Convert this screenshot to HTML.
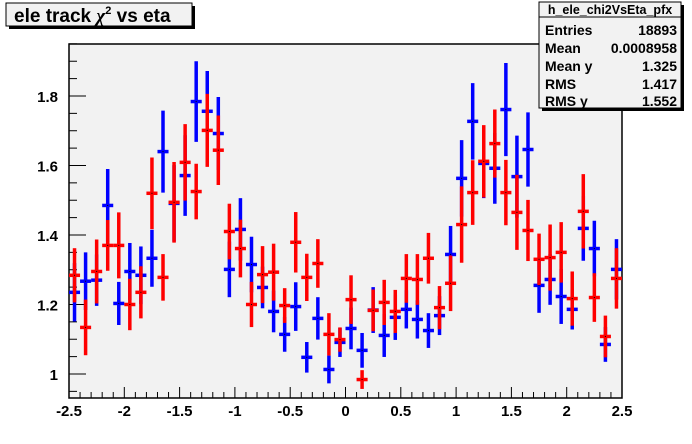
<!DOCTYPE html>
<html><head><meta charset="utf-8"><style>
body{margin:0;background:#fff}
svg{display:block;font-family:"Liberation Sans",Arial,sans-serif;font-weight:bold}
</style></head><body>
<svg id="c" width="692" height="444" viewBox="0 0 692 444">
<rect x="0" y="0" width="692" height="444" fill="#fff"/>
<rect x="69" y="44" width="553" height="354" fill="#f2f2f2" stroke="#000" stroke-width="1.5"/>
<g id="axes"></g>
<g id="marks"></g>
<g>
<rect x="9" y="6" width="186" height="23" fill="#000"/>
<rect x="6" y="3" width="186" height="23" fill="#f2f2f2" stroke="#000"/>
<text x="14" y="22" font-size="19">ele track <tspan font-family="Liberation Serif" font-style="italic">χ</tspan><tspan font-size="11" dy="-8">2</tspan><tspan dy="8"> vs eta</tspan></text>
</g>
<g font-size="14">
<rect x="542" y="5" width="142" height="106" fill="#000"/>
<rect x="539" y="2" width="142" height="106" fill="#f2f2f2" stroke="#000"/>
<line x1="539" y1="17" x2="681" y2="17" stroke="#000"/>
<text x="610" y="14" font-size="12.5" text-anchor="middle">h_ele_chi2VsEta_pfx</text>
<text x="545" y="35">Entries</text><text x="677" y="35" text-anchor="end">18893</text>
<text x="545" y="53">Mean</text><text x="677" y="53" text-anchor="end">0.0008958</text>
<text x="545" y="71">Mean y</text><text x="677" y="71" text-anchor="end">1.325</text>
<text x="545" y="89">RMS</text><text x="677" y="89" text-anchor="end">1.417</text>
<text x="545" y="106">RMS y</text><text x="677" y="106" text-anchor="end">1.552</text>
</g>
</svg>
<script>
const xTicks=[-2.5,-2,-1.5,-1,-0.5,0,0.5,1,1.5,2,2.5];
const xTickLabels=["-2.5","-2","-1.5","-1","-0.5","0","0.5","1","1.5","2","2.5"];
const yTicks=[1,1.2,1.4,1.6,1.8];
const yTickLabels=["1","1.2","1.4","1.6","1.8"];
const binLow=-2.5, binWidth=0.1;
const blueVals=[1.235,1.267,1.270,1.485,1.203,1.295,1.284,1.333,1.640,1.491,1.571,1.784,1.756,1.692,1.301,1.416,1.315,1.249,1.180,1.114,1.194,1.048,1.160,1.013,1.091,1.131,1.068,1.184,1.111,1.163,1.186,1.157,1.125,1.168,1.344,1.563,1.727,1.606,1.592,1.761,1.568,1.646,1.255,1.272,1.223,1.186,1.419,1.361,1.085,1.301];
const blueErrs=[0.084,0.083,0.074,0.105,0.062,0.082,0.083,0.082,0.118,0.11,0.116,0.116,0.116,0.105,0.08,0.09,0.08,0.06,0.06,0.05,0.07,0.044,0.061,0.04,0.042,0.06,0.05,0.066,0.062,0.065,0.055,0.055,0.05,0.056,0.082,0.11,0.11,0.1,0.102,0.134,0.118,0.107,0.079,0.073,0.079,0.058,0.093,0.08,0.05,0.087];
const redVals=[1.284,1.134,1.295,1.370,1.370,1.200,1.235,1.520,1.278,1.494,1.609,1.525,1.701,1.644,1.410,1.361,1.200,1.286,1.293,1.197,1.379,1.278,1.318,1.114,1.099,1.214,0.984,1.183,1.206,1.180,1.275,1.272,1.333,1.191,1.261,1.430,1.522,1.612,1.663,1.522,1.465,1.413,1.330,1.335,1.350,1.217,1.468,1.220,1.108,1.275];
const redErrs=[0.078,0.08,0.092,0.073,0.095,0.074,0.075,0.103,0.067,0.116,0.11,0.08,0.105,0.1,0.08,0.083,0.065,0.082,0.082,0.05,0.087,0.068,0.07,0.061,0.035,0.07,0.027,0.06,0.065,0.062,0.07,0.073,0.073,0.062,0.08,0.11,0.093,0.104,0.098,0.094,0.108,0.088,0.074,0.095,0.087,0.078,0.107,0.07,0.06,0.087];

const X0=69,X1=622,Y0=398,Y1=44,xMin=-2.5,xMax=2.5,yMin=0.9309,yMax=1.9496;
const sx=v=>X0+(v-xMin)/(xMax-xMin)*(X1-X0);
const sy=v=>Y0-(v-yMin)/(yMax-yMin)*(Y0-Y1);
const NS="http://www.w3.org/2000/svg";
const axes=document.getElementById('axes'),marks=document.getElementById('marks');
function mk(tag,attrs,parent){const e=document.createElementNS(NS,tag);for(const k in attrs)e.setAttribute(k,attrs[k]);parent.appendChild(e);return e;}
// x ticks
for(let i=0;i<=50;i++){const v=xMin+i*0.1;const major=i%5===0;
 const t=mk('line',{x1:sx(v),x2:sx(v),y1:Y0,y2:Y0-(major?11:6),stroke:'#000','stroke-width':1},axes);
 
 }
xTicks.forEach((v,i)=>{const t=mk('text',{x:sx(v),y:416,'font-size':15,'text-anchor':'middle'},axes);t.textContent=xTickLabels[i];
 
 });
// y ticks
for(let v=0.95;v<1.951;v+=0.05){const r=Math.round(v*100)/100;const major=Math.abs(r*5-Math.round(r*5))<1e-6;
 const t=mk('line',{x1:X0,x2:X0+(major?17:8),y1:sy(r),y2:sy(r),stroke:'#000','stroke-width':1},axes);
 
 }
yTicks.forEach((v,i)=>{const t=mk('text',{x:58,y:sy(v)+6,'font-size':15,'text-anchor':'end'},axes);t.textContent=yTickLabels[i];
 
 });
function series(vals,errs,color,name){
 const g=mk('g',{},marks);
 
 
 vals.forEach((v,i)=>{const lo=binLow+i*binWidth,cx=sx(lo+binWidth/2);
  const p=mk('g',{},g);
  
  
  mk('line',{x1:cx,x2:cx,y1:sy(v-errs[i]),y2:sy(v+errs[i]),stroke:color,'stroke-width':3.5},p);
  mk('line',{x1:sx(lo),x2:sx(lo+binWidth),y1:sy(v),y2:sy(v),stroke:color,'stroke-width':3.5},p);
  mk('rect',{x:cx-0.5,y:sy(v)-0.5,width:1,height:1,fill:'#000'},p);
 });
}
series(blueVals,blueErrs,'#0000ff','blue');
series(redVals,redErrs,'#ff0000','red');
</script>
</body></html>
